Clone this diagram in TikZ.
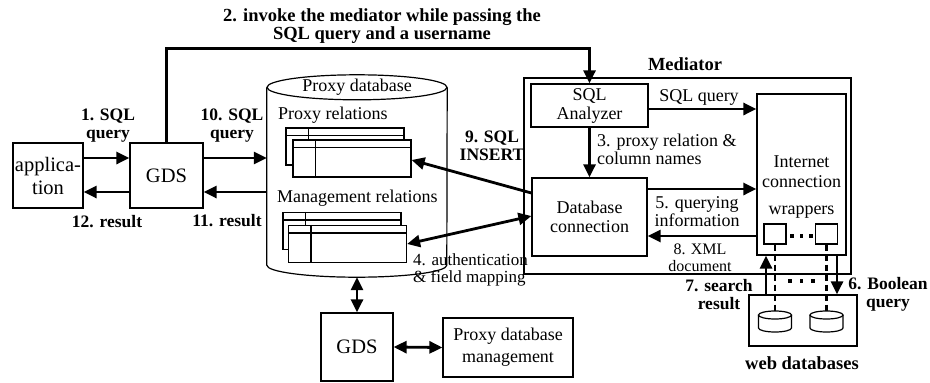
\documentclass[tikz,border=0pt]{standalone}
\usepackage{fontspec}
\setmainfont{Liberation Serif}
\usetikzlibrary{arrows.meta}

\begin{document}
\begin{tikzpicture}[x=1pt,y=-1pt,
  box/.style={draw, line width=1.2pt, inner sep=0pt, align=center, font=\fontsize{18}{19}\selectfont},
  bigbox/.style={box, font=\fontsize{20.5}{23}\selectfont},
  relbox/.style={draw, line width=1.2pt, fill=white, minimum width=118pt, minimum height=37pt, inner sep=0pt},
  txt/.style={inner sep=0pt, align=center, font=\fontsize{18}{18}\selectfont},
  btxt/.style={txt, font=\fontsize{17.5}{18}\selectfont\bfseries},
  arr/.style={line width=2.8pt, -{Triangle[length=13pt,width=12pt]}},
  darr/.style={line width=2.8pt, {Triangle[length=13pt,width=12pt]}-{Triangle[length=13pt,width=12pt]}},
]

\useasboundingbox (0,0) rectangle (930,383);

\node[bigbox, minimum width=70pt, minimum height=65pt] (app) at (48,175.5) {applica-\\tion};
\node[bigbox, minimum width=73pt, minimum height=65pt] (gds) at (166.5,175.5) {GDS};

\node[minimum width=180pt, minimum height=202pt, inner sep=0pt] (proxydb) at (357,176) {};
\draw[line width=1.2pt] ([yshift=-12.5pt]proxydb.north west) -- ([yshift=12pt]proxydb.south west)
  arc[start angle=180, end angle=360, x radius=90pt, y radius=12pt] -- ([yshift=-12.5pt]proxydb.north east);
\draw[line width=1.2pt] ([yshift=-12.5pt]proxydb.north) ellipse[x radius=90pt, y radius=12.5pt];
\node[txt] (dbtitle) at ([yshift=-12.5pt]proxydb.north) {Proxy database};

\node[txt, anchor=west] (proxylbl) at (278,115) {Proxy relations};
\node[txt, anchor=west] (mgmtlbl) at (277,198) {Management relations};

\foreach \t/\cx/\cy in {proxyback/345/146.5, proxytab/352/158.5, mgmtback/342/231, mgmttab/347.5/244} {
  \node[relbox] (\t) at (\cx,\cy) {};
  \draw[line width=1.2pt] ([xshift=23pt]\t.north west) -- ([xshift=23pt]\t.south west)
    ([yshift=-8pt]\t.north west) -- ([yshift=-8pt]\t.north east);
}

\node[box, minimum width=327pt, minimum height=196pt] (mediator) at (687.5,176) {};
\node[btxt, font=\fontsize{18.5}{20}\selectfont\bfseries] (medlbl) at (685,64) {Mediator};
\node[box, minimum width=117pt, minimum height=43pt] (sqlan) at (589.5,105.5) {SQL\\Analyzer};
\node[box, minimum width=115pt, minimum height=78pt] (dbconn) at (589.5,217) {Database\\connection};
\node[box, minimum width=89pt, minimum height=161pt] (inet) at (801.5,174.5) {};
\node[txt, font=\fontsize{18}{20}\selectfont] (inetlbl) at (801.5,172) {Internet\\connection};
\node[txt] (wraplbl) at (801.5,212) {wrappers};
\node[box, minimum width=22pt, minimum height=20pt] (wrapL) at (775,234) {};
\node[box, minimum width=22pt, minimum height=20pt] (wrapR) at (826.5,234) {};
\foreach \dx in {792,801.5,811}
  \fill (\dx-1.6,234.4) rectangle (\dx+1.6,237.6);

\node[bigbox, minimum width=72pt, minimum height=68pt] (gdsmgr) at (357,347) {GDS};
\node[box, minimum width=130pt, minimum height=59pt, font=\fontsize{18}{22}\selectfont] (pdm) at (508,347.5) {Proxy database\\management};

\node[box, minimum width=108pt, minimum height=51pt] (webdb) at (803,320.5) {};
\node[btxt, font=\fontsize{18.5}{20}\selectfont\bfseries] (weblbl) at (802,363) {web databases};
\foreach \nm/\cx in {cylL/775, cylR/826.5} {
  \coordinate (\nm) at (\cx,311);
  \draw[line width=1.2pt] (\cx,315) ellipse[x radius=16.5pt, y radius=4pt];
  \draw[line width=1.2pt] (\cx-16.5,315) -- (\cx-16.5,328)
    arc[start angle=180, end angle=360, x radius=16.5pt, y radius=4pt] -- (\cx+16.5,315);
}
\draw[line width=2.5pt, dash pattern=on 6pt off 4pt] (wrapL.south) -- (cylL);
\draw[line width=2.5pt, dash pattern=on 6pt off 4pt] (wrapR.south) -- (cylR);
\foreach \dx in {790,801.5,813}
  \fill (\dx-1.6,279.4) rectangle (\dx+1.6,282.6);

\draw[arr] ([yshift=17.5pt]app.east) -- ([yshift=17.5pt]gds.west);
\draw[arr] ([yshift=-16.5pt]gds.west) -- ([yshift=-16.5pt]app.east);
\draw[arr] ([yshift=17.5pt]gds.east) -- (proxydb.west |- 0,158);
\draw[arr] (proxydb.west |- 0,192) -- ([yshift=-16.5pt]gds.east);
\draw[arr] (gds.north) -- ++(0,-94) -| (sqlan.north);

\draw[arr] (sqlan.east |- 0,109) -- (inet.west |- 0,109);
\draw[arr] (sqlan.south) -- (dbconn.north);
\draw[arr] (dbconn.east |- 0,189) -- (inet.west |- 0,189);
\draw[arr] (inet.west |- 0,236) -- (dbconn.east |- 0,236);
\draw[arr] (dbconn.west |- 0,193) -- (proxytab.east |- 0,160);
\draw[darr] (mgmttab.east) -- (dbconn.west |- 0,216);

\draw[darr] (proxydb.south) -- (gdsmgr.north);
\draw[darr] (gdsmgr.east) -- (pdm.west);
\draw[arr] (webdb.north -| 766,0) -- (inet.south -| 766,0);
\draw[arr] (inet.south -| 837,0) -- (webdb.north -| 837,0);

\node[btxt] (lbl1) at (108,126) {1. SQL\\query};
\node[btxt] (lbl12) at (107,222) {12. result};
\node[btxt] (lbl10) at (232,126) {10. SQL\\query};
\node[btxt] (lbl11) at (227,221) {11. result};
\node[btxt, font=\fontsize{18.5}{18}\selectfont\bfseries] (lbl2) at (382,26) {2. invoke the mediator while passing the\\SQL query and a username};
\node[btxt] (lbl9) at (492,146) {9. SQL\\INSERT};
\node[txt, align=left, anchor=west] (lbl3) at (597,149) {3. proxy relation \&\\column names};
\node[txt] (lblsql) at (699,97) {SQL query};
\node[txt] (lbl5) at (697,212) {5. querying\\information};
\node[txt, font=\fontsize{16}{17}\selectfont] (lbl8) at (700,258) {8. XML\\document};
\node[txt, align=left, anchor=west, font=\fontsize{17}{17}\selectfont] (lbl4) at (413,269.5) {4. authentication\\\& field mapping};
\node[btxt] (lbl7) at (719,294.5) {7. search\\result};
\node[btxt] (lbl6) at (888,294.5) {6. Boolean\\query};

\end{tikzpicture}
\end{document}
